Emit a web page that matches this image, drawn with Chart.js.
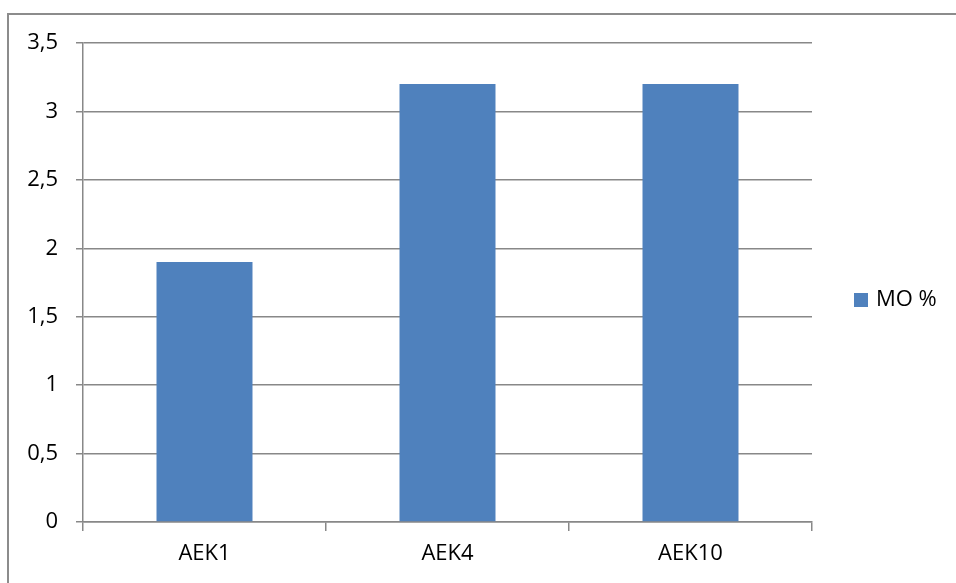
<!DOCTYPE html>
<html>
<head>
<meta charset="utf-8">
<script src="https://cdn.jsdelivr.net/npm/chart.js@4"></script>
<style>
  html, body { margin: 0; padding: 0; background: #fff; }
  #wrap { width: 956px; height: 583px; position: relative; }
</style>
</head>
<body>
<div id="wrap"><canvas id="moChart" width="956" height="583"></canvas></div>
<script>
const categories = ["AEK1", "AEK4", "AEK10"];
const moValues = [1.9, 3.2, 3.2];
const seriesName = "MO %";
const yTicks = [0, 0.5, 1, 1.5, 2, 2.5, 3, 3.5];

const FONT = "'Open Sans', 'Liberation Sans', Arial, sans-serif";
const FONT_SIZE = 22;
const GRID = "#888888";
const BAR = "#4f81bd";

// frame line along the top and left edge, and the legend on the right
const framePlugin = {
  id: "frame",
  beforeDraw(chart) {
    const ctx = chart.ctx;
    ctx.save();
    ctx.fillStyle = "#fff";
    ctx.fillRect(0, 0, chart.width, chart.height);
    ctx.strokeStyle = "#8c8c8c";
    ctx.lineWidth = 2;
    ctx.beginPath();
    ctx.moveTo(8, chart.height);
    ctx.lineTo(8, 14);
    ctx.lineTo(chart.width, 14);
    ctx.stroke();
    ctx.restore();
  },
  afterDraw(chart) {
    const ctx = chart.ctx;
    const ds = chart.data.datasets[0];
    ctx.save();
    ctx.fillStyle = ds.backgroundColor;
    ctx.fillRect(854, 293, 14, 14);
    ctx.fillStyle = "#000";
    ctx.font = FONT_SIZE + "px " + FONT;
    ctx.textBaseline = "middle";
    ctx.textAlign = "left";
    ctx.fillText(ds.label, 876, 300);
    ctx.restore();
  }
};

new Chart(document.getElementById("moChart"), {
  type: "bar",
  data: {
    labels: categories,
    datasets: [{
      label: seriesName,
      data: moValues,
      backgroundColor: BAR,
      borderWidth: 0,
      categoryPercentage: 1,
      barPercentage: 0.395
    }]
  },
  options: {
    responsive: false,
    animation: false,
    layout: { padding: { left: 0, top: 43, right: 144, bottom: 0 } },
    plugins: {
      legend: { display: false },
      tooltip: { enabled: false }
    },
    scales: {
      x: {
        afterFit(s) { s.height = 61; },
        grid: {
          offset: true,
          drawOnChartArea: false,
          color: GRID,
          lineWidth: 1.5,
          tickLength: 9
        },
        border: { color: GRID, width: 1.5 },
        ticks: {
          color: "#000",
          font: { family: FONT, size: FONT_SIZE },
          padding: 10
        }
      },
      y: {
        min: 0,
        max: 3.5,
        afterFit(s) { s.width = 83; },
        afterBuildTicks(s) { s.ticks = yTicks.map(v => ({ value: v })); },
        grid: {
          color: GRID,
          lineWidth: 1.5,
          tickLength: 7
        },
        border: { color: GRID, width: 1.5 },
        ticks: {
          color: "#000",
          font: { family: FONT, size: FONT_SIZE },
          padding: 18,
          callback: v => String(v).replace(".", ",")
        }
      }
    }
  },
  plugins: [framePlugin]
});
</script>
</body>
</html>
